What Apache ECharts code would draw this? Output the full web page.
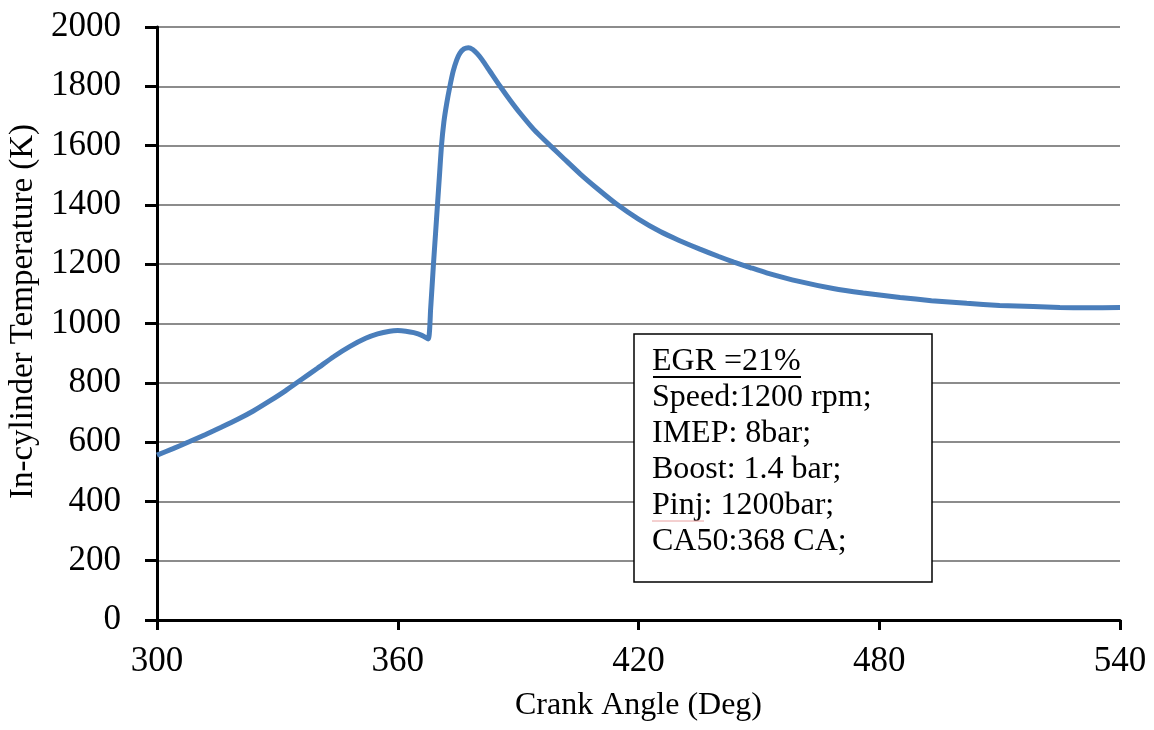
<!DOCTYPE html>
<html>
<head>
<meta charset="utf-8">
<script src="https://cdn.jsdelivr.net/npm/echarts@6/dist/echarts.min.js"></script>
<style>
  html, body { margin: 0; padding: 0; background: #fff; }
  #chart { width: 1154px; height: 730px; }
</style>
</head>
<body>
<div id="chart"></div>
<script>
// Crank angle (deg)
const crankAngle = [300, 304, 308, 312, 316, 320, 324, 328, 332, 336, 340, 344, 348, 352, 355, 358,
  360, 362, 364, 366, 367.6, 368.2, 368.9, 369.4, 369.9, 370.4, 370.9, 371.5, 372.2, 373, 373.8,
  374.7, 375.5, 376.5, 377.6, 378.7, 379.8, 381, 383, 385.5, 388, 390.5, 394, 398, 401.5, 405.5,
  410, 414.6, 420, 425.4, 430, 435.3, 440, 443.6, 448, 451.9, 460, 468.5, 476, 485.2, 493, 501.8,
  510, 518.4, 525, 531.7, 540];
// In-cylinder temperature (K)
const temperature = [556, 578, 601, 625, 650, 676, 705, 738, 773, 811, 849, 888, 922, 950, 965, 974,
  976, 974, 969, 960, 948, 1050, 1200, 1300, 1400, 1500, 1600, 1680, 1742, 1800, 1850,
  1889, 1912, 1926, 1930, 1924, 1910, 1890, 1850, 1800, 1753, 1709, 1653, 1600, 1555, 1504,
  1452, 1402, 1352, 1310, 1281, 1251, 1226, 1208, 1188, 1171, 1142, 1118, 1103, 1088, 1077, 1068,
  1061, 1057, 1054, 1053, 1054];

const xTicks = [300, 360, 420, 480, 540];
const yTicks = [0, 200, 400, 600, 800, 1000, 1200, 1400, 1600, 1800, 2000];

const xTitle = 'Crank Angle (Deg)';
const yTitle = 'In-cylinder Temperature (K)';
const noteTitle = 'EGR =21%';
const noteLines = ['Speed:1200 rpm;', 'IMEP: 8bar;', 'Boost: 1.4 bar;', 'Pinj: 1200bar;', 'CA50:368 CA;'];

const FONT = '"Liberation Serif", "Times New Roman", serif';

const chart = echarts.init(document.getElementById('chart'), null, { renderer: 'canvas' });

const seriesData = crankAngle.map((a, i) => [a, temperature[i]]);

chart.setOption({
  backgroundColor: '#ffffff',
  animation: false,
  grid: { left: 157, right: 34, top: 27, bottom: 110, containLabel: false, outerBoundsMode: 'none' },
  xAxis: {
    type: 'value',
    min: xTicks[0],
    max: xTicks[xTicks.length - 1],
    interval: xTicks[1] - xTicks[0],
    name: xTitle,
    nameLocation: 'middle',
    nameGap: 70,
    nameTextStyle: { fontFamily: FONT, fontSize: 32, color: '#000' },
    axisLine: { show: true, onZero: false, lineStyle: { color: '#000', width: 3 } },
    axisTick: { show: true, inside: false, length: 10, lineStyle: { color: '#000', width: 3 } },
    axisLabel: { fontFamily: FONT, fontSize: 35, color: '#000', margin: 24, formatter: v => String(v) },
    splitLine: { show: false }
  },
  yAxis: {
    type: 'value',
    min: yTicks[0],
    max: yTicks[yTicks.length - 1],
    interval: yTicks[1] - yTicks[0],
    name: yTitle,
    nameLocation: 'middle',
    nameGap: 112,
    nameRotate: 90,
    nameTextStyle: { fontFamily: FONT, fontSize: 33, color: '#000', padding: [0, 0, 0, 24] },
    axisLine: { show: true, lineStyle: { color: '#000', width: 3 } },
    axisTick: { show: true, inside: false, length: 12, lineStyle: { color: '#000', width: 3 } },
    axisLabel: { fontFamily: FONT, fontSize: 35, color: '#000', margin: 36, formatter: v => String(v) },
    splitLine: { show: true, lineStyle: { color: '#8c8c8c', width: 2 } }
  },
  series: [{
    type: 'line',
    data: seriesData,
    showSymbol: false,
    smooth: 0.2,
    lineStyle: { color: '#4a7ebb', width: 5 },
    z: 3
  }],
  graphic: [
    {
      type: 'rect',
      shape: { x: 634, y: 334, width: 298, height: 248 },
      style: { fill: '#ffffff', stroke: '#000', lineWidth: 1.5 },
      z: 10
    },
    {
      type: 'text',
      x: 652,
      y: 344,
      style: {
        text: [noteTitle].concat(noteLines).join('\n'),
        font: '32px ' + FONT,
        fill: '#000',
        lineHeight: 36
      },
      z: 11
    },
    {
      type: 'line',
      shape: { x1: 653, y1: 377, x2: 801, y2: 377 },
      style: { stroke: '#000', lineWidth: 2 },
      z: 11
    },
    {
      type: 'line',
      shape: { x1: 652, y1: 521, x2: 704, y2: 521 },
      style: { stroke: '#e8a0a0', lineWidth: 1 },
      z: 11
    }
  ]
});
</script>
</body>
</html>
